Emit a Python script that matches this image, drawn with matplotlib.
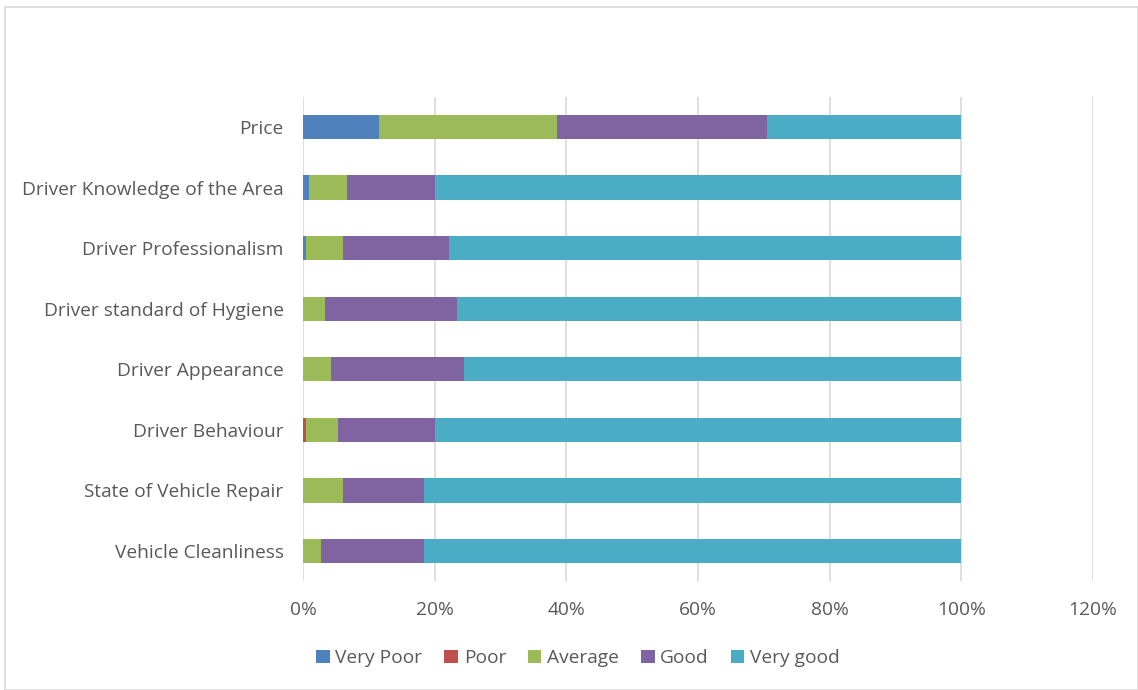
import matplotlib
matplotlib.use("Agg")
import matplotlib.pyplot as plt
from matplotlib.ticker import FuncFormatter
from matplotlib.patches import Rectangle
import numpy as np

plt.rcParams['font.family'] = ['Open Sans', 'DejaVu Sans']

categories = ["Price", "Driver Knowledge of the Area", "Driver Professionalism",
              "Driver standard of Hygiene", "Driver Appearance", "Driver Behaviour",
              "State of Vehicle Repair", "Vehicle Cleanliness"]
series_names = ["Very Poor", "Poor", "Average", "Good", "Very good"]
very_poor = [11.5, 0.9, 0.4, 0.0, 0.0, 0.0, 0.0, 0.0]
poor      = [0.0, 0.0, 0.0, 0.0, 0.0, 0.4, 0.0, 0.0]
average   = [27.0, 5.8, 5.7, 3.3, 4.3, 4.9, 6.1, 2.7]
good      = [31.9, 13.3, 16.1, 20.1, 20.2, 14.7, 12.2, 15.6]
very_good = [29.6, 80.0, 77.8, 76.6, 75.5, 80.0, 81.7, 81.7]
colors = ["#4F81BD", "#C0504D", "#9BBB59", "#8064A2", "#4BACC6"]
xticks = [0, 20, 40, 60, 80, 100, 120]

fig = plt.figure(figsize=(11.38, 6.9), dpi=100)
fig.patches.append(Rectangle((0.004, 0.0), 0.996, 0.99, transform=fig.transFigure,
                             fill=False, edgecolor="#D9D9D9", linewidth=1.2))
ax = fig.add_axes([0.2663, 0.1575, 0.6942, 0.7023])

y = np.arange(len(categories))
left = np.zeros(len(categories))
for name, vals, c in zip(series_names, [very_poor, poor, average, good, very_good], colors):
    v = np.array(vals) / 100.0
    ax.barh(y, v, left=left, height=0.4, color=c, label=name, zorder=3)
    left += v

ax.set_ylim(len(categories) - 0.5, -0.5)
ax.set_xlim(0, 1.2)
ax.set_yticks(y)
ax.set_yticklabels(categories, fontsize=13.8, color="#595959")
ax.set_xticks([t / 100 for t in xticks])
ax.xaxis.set_major_formatter(FuncFormatter(lambda v, p: f"{v*100:.0f}%"))
ax.tick_params(axis='x', labelsize=13.8, colors="#595959", length=0, pad=14)
ax.tick_params(axis='y', length=0, pad=14)
ax.grid(axis='x', color="#D9D9D9", linewidth=1.2, zorder=0)
for s in ax.spines.values():
    s.set_visible(False)

leg = fig.legend(loc="center", bbox_to_anchor=(0.508, 0.046), ncol=5, frameon=False,
                 fontsize=13.8, handlelength=0.7, handleheight=0.7, handletextpad=0.3,
                 columnspacing=1.15)
for t in leg.get_texts():
    t.set_color("#595959")

fig.savefig("out.png", dpi=100)
